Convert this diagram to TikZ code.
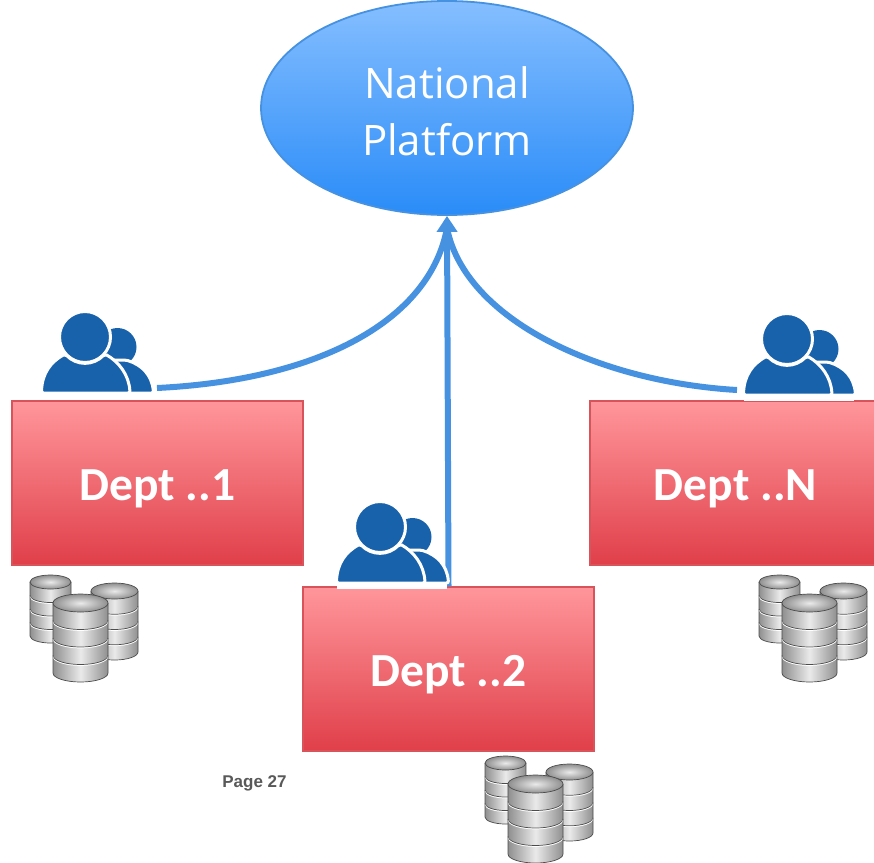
\documentclass[tikz,border=0pt]{standalone}
\usepackage{fontspec}
\setmainfont{Open Sans}
\newfontfamily\deptfont{Carlito}
\newfontfamily\pagefont{Liberation Sans}
\usetikzlibrary{arrows.meta, shapes.geometric}
\definecolor{iconblue}{HTML}{1862AC}
\definecolor{linkblue}{HTML}{4792E0}
\definecolor{platformtop}{HTML}{85BEFF}
\definecolor{platformbottom}{HTML}{2A8CF8}
\definecolor{deptedge}{HTML}{D9535B}
\definecolor{depttop}{HTML}{FF969B}
\definecolor{deptbottom}{HTML}{E03F49}
\definecolor{dbdark}{HTML}{8F8F8F}
\definecolor{dblight}{HTML}{EAEAEA}
\tikzset{
    dept/.style={rectangle, draw=deptedge, line width=1.2pt, top color=depttop, bottom color=deptbottom,
        minimum width=291pt, minimum height=164pt, inner sep=0pt, text=white, text height=34pt, text depth=0pt,
        font=\fontsize{47.5}{50}\deptfont\bfseries},
    link/.style={draw=linkblue, line width=6pt},
    pics/users/.style={code={
        \fill[iconblue] (32.5,10) circle (19);
        \fill[iconblue, draw=white, line width=3pt, rounded corners=2pt] (-43,56) -- (68.5,56) .. controls (67,38) and (57,28) .. (41,23) -- (10,23) -- cycle;
        \fill[iconblue, draw=white, line width=3pt, rounded corners=2pt] (-43.5,56) .. controls (-43,36) and (-34,25) .. (-20,17)
            .. controls (-8,29) and (8,29) .. (20,17) .. controls (34,25) and (44,38) .. (45,56) -- cycle;
        \fill[iconblue, draw=white, line width=3pt] (0,0) circle (25.5);
        \fill[white] (-43,55) rectangle (67,62);
    }},
    pics/dbstack/.style={code={
        \foreach \cx/\cy/\rx/\ry/\hgt in {20.5/7/20.5/7/54, 84.5/16/23.5/8/61, 50.5/28/27.5/9/70} {
            \shade[left color=dbdark, right color=dbdark, middle color=dblight]
                (\cx-\rx,\cy) -- ++(0,\hgt) arc (180:0:\rx pt and -\ry pt) -- ++(0,-\hgt) -- cycle;
            \foreach \band in {1,2,3} {
                \draw[black!70, line width=0.7pt] (\cx-\rx,\cy+\hgt*\band/4) arc (180:0:\rx pt and -\ry pt);
                \draw[white, line width=0.7pt] (\cx-\rx,\cy+\hgt*\band/4+1) arc (180:0:\rx pt and -\ry pt);
            }
            \draw[black!70, line width=0.7pt] (\cx-\rx,\cy) -- ++(0,\hgt) arc (180:0:\rx pt and -\ry pt) -- ++(0,-\hgt);
            \shade[inner color=dblight, outer color=dbdark, draw=black!70, line width=0.7pt]
                (\cx,\cy) ellipse (\rx pt and \ry pt);
        }
    }},
}
\begin{document}
\begin{tikzpicture}[x=1pt, y=-1pt]
    \useasboundingbox (0,0) rectangle (874,862);

    \node (platform) at (447,108) [ellipse, draw=linkblue, line width=1.8pt, top color=platformtop, bottom color=platformbottom,
        minimum width=372pt, minimum height=214pt, inner sep=0pt, text=white, align=center,
        font=\fontsize{42}{57}\selectfont] {\rule{0pt}{38pt}National\\Platform};

    \begin{scope}[every node/.style={dept}]

        \node (dept1) at (157.5,483) {Dept ..1};
        \node (dept2) at (448.5,669) {Dept ..2};
        \node (deptN) at (735.5,483) {Dept ..N};

    \end{scope}

    \coordinate (users1) at (157,388);
    \coordinate (usersN) at (737,390);
    \coordinate (merge) at (447,228);

    \draw[link] (users1) .. controls (320,380) and (430,320) .. (merge);
    \draw[link] (usersN) .. controls (600,382) and (465,320) .. (merge);
    \draw[link, -{Triangle[width=20pt,length=16pt]}] (dept2.north) -- (platform.south);

    \pic at (85,337) {users};
    \pic at (380,527) {users};
    \pic at (787,339) {users};

    \pic at (30,575) {dbstack};
    \pic at (485,756) {dbstack};
    \pic at (759,575) {dbstack};

    \node (page) at (254.5,783.5) [text=black!65, font=\fontsize{17}{20}\pagefont\bfseries] {Page 27};
\end{tikzpicture}
\end{document}
